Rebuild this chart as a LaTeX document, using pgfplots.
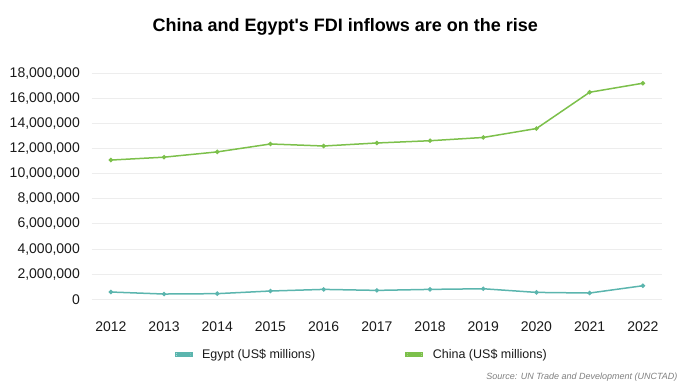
\documentclass[border=0pt]{standalone}
\usepackage{fontspec}
\setmainfont{Liberation Sans}
\newfontfamily\plainfont{Liberation Sans}
\usepackage{pgfplots}
\pgfplotsset{compat=1.18}
\definecolor{egypt}{HTML}{5BB5AE}
\definecolor{china}{HTML}{7CC04B}
\definecolor{gridc}{HTML}{EDEDED}
\definecolor{srcgray}{HTML}{7F7F7F}
\definecolor{txt}{HTML}{1A1A1A}
\begin{document}
\begin{tikzpicture}[x=1bp,y=1bp]
\path[use as bounding box] (0,0) rectangle (696,390);
\node[anchor=base, font=\plainfont\fontsize{18bp}{20bp}\selectfont\bfseries] at (345.2,358.3) {China and Egypt's FDI inflows are on the rise};
\node[anchor=base east, font=\fontsize{9bp}{11bp}\selectfont\itshape, text=srcgray, inner sep=0pt] at (677.7,10.5) {Source: UN Trade and Development (UNCTAD)};
\begin{axis}[
  at={(91.7bp,90.7bp)}, anchor=south west,
  scale only axis, width=570.3bp, height=226bp,
  xmin=2011.64, xmax=2022.36, ymin=0, ymax=18000000,
  axis line style={draw=none}, major tick length=0pt,
  /pgf/number format/assume math mode=true,
  scaled y ticks=false,
  xtick={2012,2013,2014,2015,2016,2017,2018,2019,2020,2021,2022},
  ytick={0,2000000,4000000,6000000,8000000,10000000,12000000,14000000,16000000,18000000},
  xticklabel style={font=\fontsize{14bp}{16bp}\selectfont, text=txt, inner sep=0pt, anchor=north, yshift=-22.4bp, /pgf/number format/1000 sep={}},
  yticklabel style={font=\fontsize{14bp}{16bp}\selectfont, text=txt, inner sep=0pt, anchor=east, xshift=-11.7bp, /pgf/number format/1000 sep={,}, /pgf/number format/fixed, /pgf/number format/precision=0},
  ymajorgrids, grid style={gridc, line width=1bp},
  legend columns=2,
  legend style={at={(axis description cs:0.4717,-0.245)}, anchor=center, draw=none, fill=none, inner sep=0pt,
    font=\fontsize{12.5bp}{14bp}\selectfont, text=txt,
    nodes={inner sep=0pt, anchor=west},
    /tikz/every odd column/.append style={column sep=9.4bp},
    /tikz/every even column/.append style={column sep=90bp}},
  legend image code/.code={
    \path (0bp,-2bp) rectangle (16.6bp,2bp);
    \draw[line width=3.6bp, line cap=round] (1.8bp,0bp) -- (14.8bp,0bp);
  },
]
\addplot[egypt, line width=1.5bp, mark=*, mark size=1.4bp, mark options={solid, fill=egypt, draw=egypt}] coordinates {
  (2012,580000) (2013,420000) (2014,450000) (2015,660000) (2016,790000) (2017,710000)
  (2018,790000) (2019,840000) (2020,550000) (2021,500000) (2022,1080000)
};
\addlegendentry{Egypt (US\$ millions)}
\addplot[china, line width=1.5bp, mark=*, mark size=1.4bp, mark options={solid, fill=china, draw=china}] coordinates {
  (2012,11090000) (2013,11320000) (2014,11740000) (2015,12370000) (2016,12210000) (2017,12450000)
  (2018,12630000) (2019,12890000) (2020,13600000) (2021,16490000) (2022,17210000)
};
\addlegendentry{China (US\$ millions)}
\end{axis}
\end{tikzpicture}
\end{document}
